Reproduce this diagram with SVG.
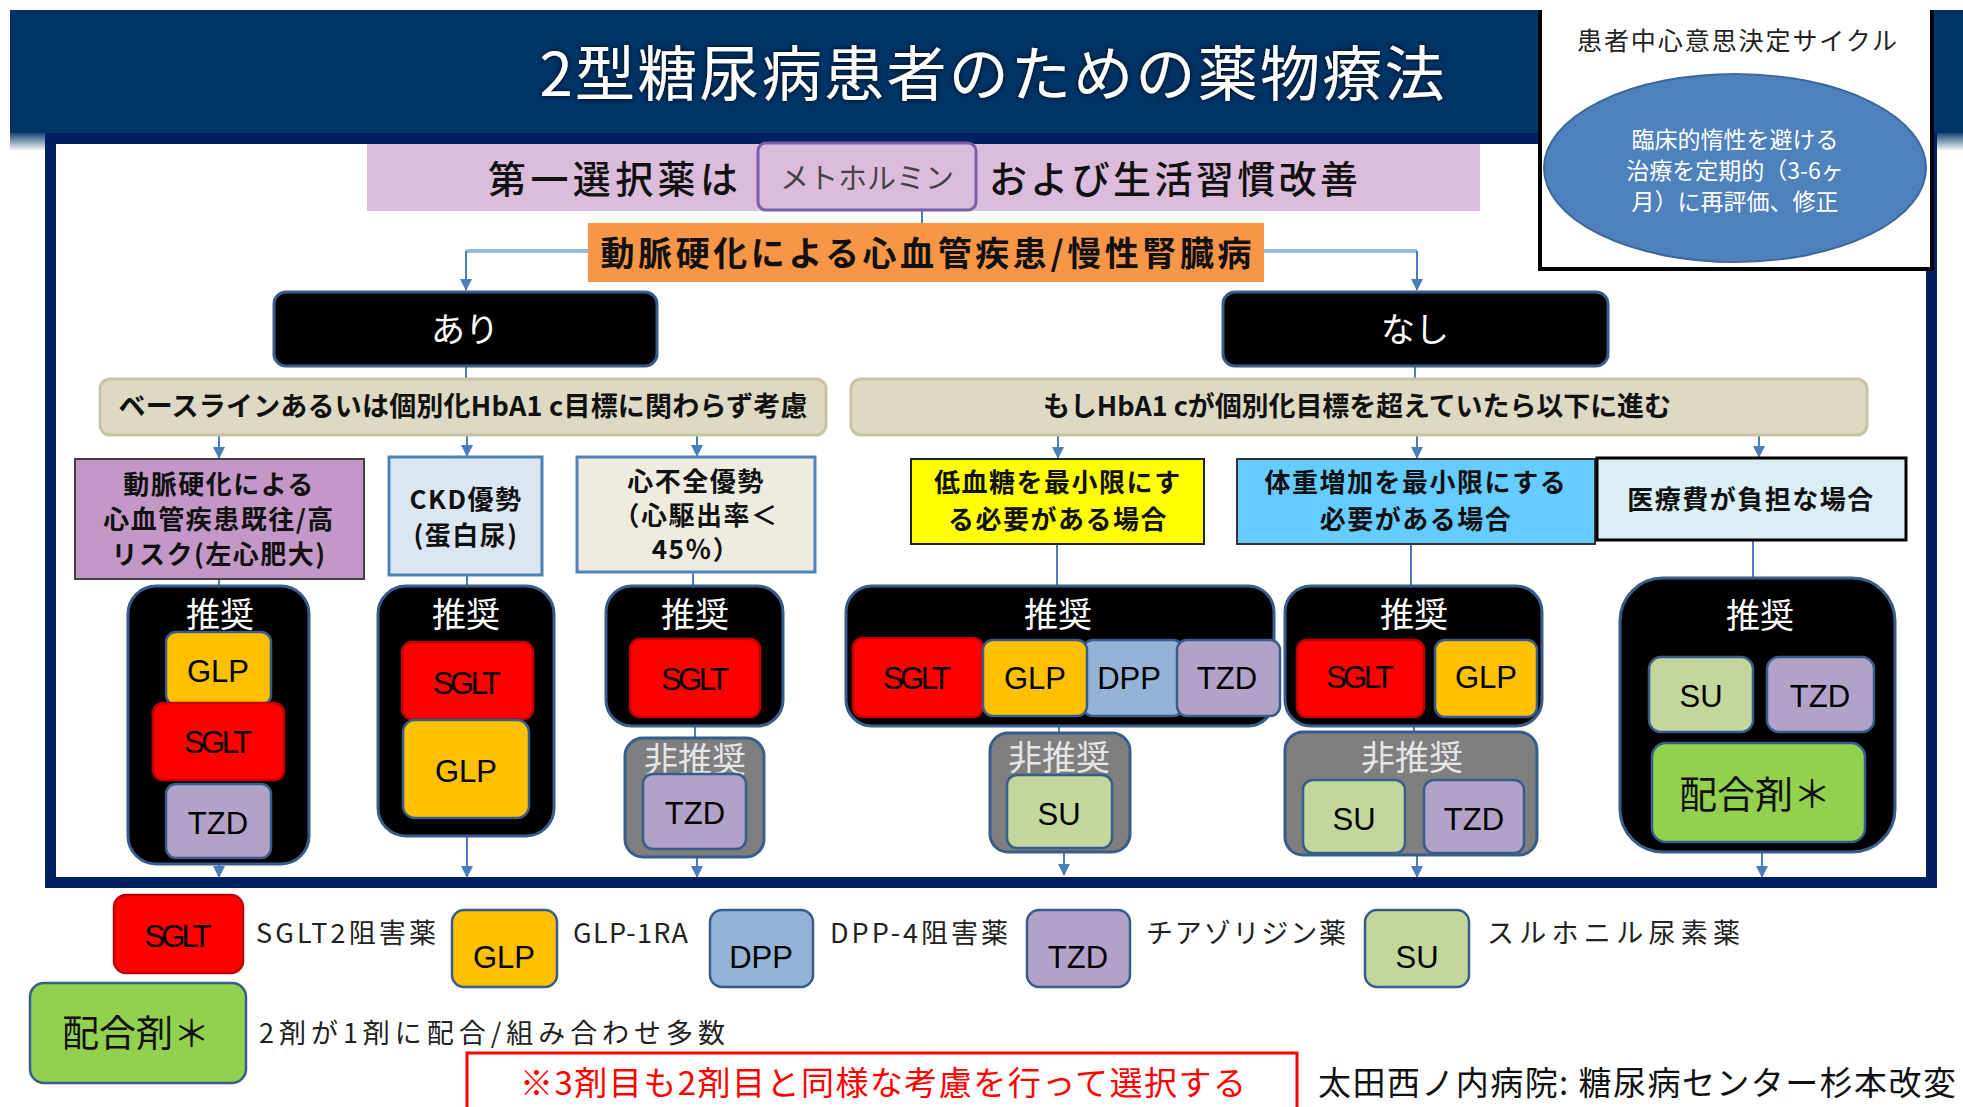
<svg xmlns="http://www.w3.org/2000/svg" width="1963" height="1107" viewBox="0 0 1963 1107">
<defs>
<style>
.cj{font-family:"Noto Sans CJK JP","Noto Sans CJK SC",sans-serif}
.lt{font-family:"Liberation Sans","Noto Sans CJK JP",sans-serif}
.cat{font-family:"Noto Sans CJK JP",sans-serif;font-size:26px;font-weight:bold;text-anchor:middle;fill:#111;letter-spacing:1.5px}
.grp{fill:#000;stroke:#385d8a;stroke-width:3}
.non{fill:#7f7f7f;stroke:#385d8a;stroke-width:3}
.rec{font-family:"Noto Sans CJK JP",sans-serif;font-size:34px;fill:#fff;text-anchor:middle}
.nrec{font-family:"Noto Sans CJK JP",sans-serif;font-size:34px;fill:#e6e6e6;text-anchor:middle}
.drug{font-family:"Liberation Sans","Noto Sans CJK JP",sans-serif;font-size:31px;fill:#000;text-anchor:middle}
.sglt{fill:#ff0000;stroke:#c00000;stroke-width:2.5}
.glp{fill:#ffc000;stroke:#385d8a;stroke-width:2.5}
.dpp{fill:#95b3d7;stroke:#385d8a;stroke-width:2.5}
.tzd{fill:#b3a2c7;stroke:#385d8a;stroke-width:2.5}
.su{fill:#c3d69b;stroke:#385d8a;stroke-width:2.5}
.mix{fill:#92d050;stroke:#385d8a;stroke-width:2.5}
.leg{font-family:"Noto Sans CJK JP",sans-serif;font-size:27px;fill:#222}
.ln{fill:none;stroke:#4a7ebb;stroke-width:2}
.band{fill:#ddd9c3;stroke:#c9c3a3;stroke-width:3}
</style>
<marker id="ah" markerUnits="userSpaceOnUse" markerWidth="12" markerHeight="12" viewBox="0 0 12 12" refX="11" refY="6" orient="auto">
<path d="M0,0 L12,6 L0,12 Z" fill="#4a7ebb"/>
</marker>
<linearGradient id="fade" x1="0" y1="0" x2="0" y2="1">
<stop offset="0" stop-color="#003366" stop-opacity="0.9"/>
<stop offset="1" stop-color="#003366" stop-opacity="0"/>
</linearGradient>
<filter id="sh" x="-5%" y="-20%" width="110%" height="140%">
<feDropShadow dx="0" dy="0" stdDeviation="2.5" flood-color="#000" flood-opacity="0.9"/>
</filter>
</defs>

<rect x="0" y="0" width="1963" height="1107" fill="#fff"/>

<g id="header">
<rect x="10" y="10" width="1953" height="123" fill="#003366"/>
<rect x="10" y="133" width="1953" height="18" fill="url(#fade)"/>
</g>

<g id="frame">
<rect x="50.5" y="138.5" width="1881" height="744" fill="#fff" stroke="#002060" stroke-width="11"/>
</g>

<g id="title">
<text class="cj" x="992" y="96" font-size="60" fill="#fff" text-anchor="middle" textLength="905" filter="url(#sh)">2型糖尿病患者のための薬物療法</text>
</g>

<g id="cycle">
<rect x="1540" y="-10" width="392" height="279" fill="#fff" stroke="#000" stroke-width="4"/>
<text class="cj" x="1737" y="50" font-size="25" fill="#222" text-anchor="middle" textLength="320">患者中心意思決定サイクル</text>
<ellipse cx="1735" cy="168" rx="191" ry="94" fill="#4f81bd" stroke="#3b6799" stroke-width="2"/>
<text class="cj" x="1735" y="148" font-size="23" fill="#fff" text-anchor="middle">臨床的惰性を避ける</text>
<text class="cj" x="1735" y="179" font-size="23" fill="#fff" text-anchor="middle">治療を定期的（3-6ヶ</text>
<text class="cj" x="1735" y="210" font-size="23" fill="#fff" text-anchor="middle">月）に再評価、修正</text>
</g>
<rect x="0" y="0" width="1963" height="10" fill="#fff"/>

<g id="connectors">
<line class="ln" x1="922" y1="210" x2="922" y2="223"/>
<polyline points="588,251 466,251" fill="none" stroke="#9ab8de" stroke-width="4"/>
<polyline points="1264,251 1417,251" fill="none" stroke="#9ab8de" stroke-width="4"/>
<line class="ln" x1="466" y1="251" x2="466" y2="290" marker-end="url(#ah)"/>
<line class="ln" x1="1417" y1="251" x2="1417" y2="290" marker-end="url(#ah)"/>
<line class="ln" x1="466" y1="366" x2="466" y2="379"/>
<line class="ln" x1="1415" y1="366" x2="1415" y2="379"/>
<line class="ln" x1="219" y1="435" x2="219" y2="458" marker-end="url(#ah)"/>
<line class="ln" x1="467" y1="435" x2="467" y2="456" marker-end="url(#ah)"/>
<line class="ln" x1="697" y1="435" x2="697" y2="456" marker-end="url(#ah)"/>
<line class="ln" x1="1058" y1="435" x2="1058" y2="458" marker-end="url(#ah)"/>
<line class="ln" x1="1417" y1="435" x2="1417" y2="458" marker-end="url(#ah)"/>
<line class="ln" x1="1759" y1="435" x2="1759" y2="457" marker-end="url(#ah)"/>
<line class="ln" x1="219" y1="579" x2="219" y2="586"/>
<line class="ln" x1="467" y1="575" x2="467" y2="586"/>
<line class="ln" x1="693" y1="572" x2="693" y2="586"/>
<line class="ln" x1="695" y1="726" x2="695" y2="738"/>
<line class="ln" x1="1057" y1="544" x2="1057" y2="586"/>
<line class="ln" x1="1059" y1="726" x2="1059" y2="733"/>
<line class="ln" x1="1411" y1="544" x2="1411" y2="586"/>
<line class="ln" x1="1414" y1="726" x2="1414" y2="732"/>
<line class="ln" x1="1753" y1="540" x2="1753" y2="578"/>
<line class="ln" x1="219" y1="864" x2="219" y2="877" marker-end="url(#ah)"/>
<line class="ln" x1="467" y1="836" x2="467" y2="877" marker-end="url(#ah)"/>
<line class="ln" x1="697" y1="857" x2="697" y2="877" marker-end="url(#ah)"/>
<line class="ln" x1="1064" y1="852" x2="1064" y2="875" marker-end="url(#ah)"/>
<line class="ln" x1="1417" y1="855" x2="1417" y2="877" marker-end="url(#ah)"/>
<line class="ln" x1="1762" y1="852" x2="1762" y2="877" marker-end="url(#ah)"/>
</g>

<g id="first-line">
<rect x="367" y="144" width="1113" height="67" fill="#dbbddb"/>
<text class="cj" x="488" y="193" font-size="38" font-weight="500" fill="#111" textLength="250">第一選択薬は</text>
<rect x="758" y="143" width="218" height="67" rx="8" fill="#dbbddb" stroke="#7b5ea7" stroke-width="3"/>
<text class="cj" x="867" y="189" font-size="29" fill="#444" text-anchor="middle">メトホルミン</text>
<text class="cj" x="989" y="193" font-size="38" font-weight="500" fill="#111" textLength="369">および生活習慣改善</text>
</g>

<g id="ascvd">
<rect x="588" y="223" width="676" height="59" fill="#f79646"/>
<text class="cj" x="926" y="266" font-size="34" font-weight="bold" fill="#111" text-anchor="middle" textLength="651">動脈硬化による心血管疾患/慢性腎臓病</text>
</g>

<g id="yes">
<rect x="274" y="292" width="383" height="74" rx="12" class="grp"/>
<text class="cj" x="465" y="342" font-size="34" fill="#fff" text-anchor="middle">あり</text>
</g>
<g id="no">
<rect x="1223" y="292" width="385" height="74" rx="12" class="grp"/>
<text class="cj" x="1415" y="342" font-size="34" fill="#fff" text-anchor="middle">なし</text>
</g>

<g id="band-left">
<rect x="100" y="379" width="726" height="56" rx="10" class="band"/>
<text class="cj" x="463" y="416" font-size="27" font-weight="bold" fill="#111" text-anchor="middle" textLength="689">ベースラインあるいは個別化HbA1 c目標に関わらず考慮</text>
</g>
<g id="band-right">
<rect x="851" y="379" width="1016" height="56" rx="10" class="band"/>
<text class="cj" x="1357" y="416" font-size="27" font-weight="bold" fill="#111" text-anchor="middle" textLength="628">もしHbA1 cが個別化目標を超えていたら以下に進む</text>
</g>

<g id="cat-ascvd">
<rect x="75" y="459" width="289" height="120" fill="#c398c6" stroke="#404040" stroke-width="2"/>
<text class="cat" x="219" y="494">動脈硬化による</text>
<text class="cat" x="219" y="529">心血管疾患既往/高</text>
<text class="cat" x="219" y="564">リスク(左心肥大)</text>
</g>
<g id="cat-ckd">
<rect x="389" y="457" width="153" height="118" fill="#dce6f2" stroke="#4f81bd" stroke-width="3"/>
<text class="cat" x="466" y="509">CKD優勢</text>
<text class="cat" x="466" y="545">(蛋白尿)</text>
</g>
<g id="cat-hf">
<rect x="577" y="457" width="238" height="115" fill="#eeece1" stroke="#4f81bd" stroke-width="3"/>
<text class="cat" x="696" y="491">心不全優勢</text>
<text class="cat" x="696" y="525">（心駆出率＜</text>
<text class="cat" x="696" y="559">45％）</text>
</g>
<g id="cat-hypo">
<rect x="911" y="459" width="293" height="85" fill="#ffff00" stroke="#222" stroke-width="2"/>
<text class="cat" x="1058" y="492">低血糖を最小限にす</text>
<text class="cat" x="1058" y="529">る必要がある場合</text>
</g>
<g id="cat-weight">
<rect x="1237" y="459" width="358" height="85" fill="#66ccff" stroke="#333" stroke-width="2"/>
<text class="cat" x="1416" y="492">体重増加を最小限にする</text>
<text class="cat" x="1416" y="529">必要がある場合</text>
</g>
<g id="cat-cost">
<rect x="1597" y="458" width="309" height="82" fill="#dbeef4" stroke="#000" stroke-width="3"/>
<text class="cat" x="1751" y="509">医療費が負担な場合</text>
</g>

<g id="grp-ascvd">
<rect x="128" y="586" width="181" height="278" rx="28" class="grp"/>
<text class="rec" x="220" y="627">推奨</text>
<rect x="166" y="632" width="105" height="73" rx="10" class="glp"/>
<text class="drug" x="218" y="682">GLP</text>
<rect x="153" y="703" width="131" height="77" rx="10" class="sglt"/>
<text class="drug" x="218" y="753" textLength="68">SGLT</text>
<rect x="166" y="784" width="105" height="74" rx="10" class="tzd"/>
<text class="drug" x="218" y="834">TZD</text>
</g>
<g id="grp-ckd">
<rect x="378" y="586" width="176" height="250" rx="28" class="grp"/>
<text class="rec" x="466" y="627">推奨</text>
<rect x="402" y="642" width="131" height="77" rx="10" class="sglt"/>
<text class="drug" x="467" y="694" textLength="68">SGLT</text>
<rect x="403" y="720" width="126" height="98" rx="12" class="glp"/>
<text class="drug" x="466" y="782">GLP</text>
</g>
<g id="grp-hf">
<rect x="606" y="586" width="177" height="140" rx="26" class="grp"/>
<text class="rec" x="695" y="627">推奨</text>
<rect x="630" y="639" width="130" height="78" rx="10" class="sglt"/>
<text class="drug" x="695" y="690" textLength="68">SGLT</text>
</g>
<g id="grp-hf-no">
<rect x="625" y="738" width="139" height="119" rx="18" class="non"/>
<text class="nrec" x="695" y="772">非推奨</text>
<rect x="643" y="774" width="103" height="75" rx="10" class="tzd"/>
<text class="drug" x="695" y="824">TZD</text>
</g>
<g id="grp-hypo">
<rect x="846" y="586" width="428" height="140" rx="26" class="grp"/>
<text class="rec" x="1058" y="627">推奨</text>
<rect x="1083" y="640" width="100" height="76" rx="10" class="dpp"/>
<rect x="853" y="638" width="130" height="79" rx="10" class="sglt"/>
<rect x="983" y="640" width="104" height="76" rx="10" class="glp"/>
<rect x="1177" y="640" width="103" height="76" rx="10" class="tzd"/>
<text class="drug" x="917" y="689" textLength="68">SGLT</text>
<text class="drug" x="1035" y="689">GLP</text>
<text class="drug" x="1129" y="689">DPP</text>
<text class="drug" x="1227" y="689">TZD</text>
</g>
<g id="grp-hypo-no">
<rect x="990" y="733" width="140" height="119" rx="18" class="non"/>
<text class="nrec" x="1059" y="770">非推奨</text>
<rect x="1007" y="775" width="105" height="73" rx="10" class="su"/>
<text class="drug" x="1059" y="825" font-size="35">SU</text>
</g>
<g id="grp-weight">
<rect x="1285" y="586" width="257" height="140" rx="26" class="grp"/>
<text class="rec" x="1414" y="627">推奨</text>
<rect x="1297" y="640" width="127" height="77" rx="10" class="sglt"/>
<text class="drug" x="1360" y="688" textLength="68">SGLT</text>
<rect x="1435" y="640" width="102" height="77" rx="10" class="glp"/>
<text class="drug" x="1486" y="688">GLP</text>
</g>
<g id="grp-weight-no">
<rect x="1285" y="732" width="252" height="123" rx="18" class="non"/>
<text class="nrec" x="1412" y="770">非推奨</text>
<rect x="1303" y="780" width="102" height="73" rx="10" class="su"/>
<text class="drug" x="1354" y="830" font-size="35">SU</text>
<rect x="1424" y="780" width="100" height="73" rx="10" class="tzd"/>
<text class="drug" x="1474" y="830">TZD</text>
</g>
<g id="grp-cost">
<rect x="1620" y="578" width="275" height="274" rx="43" class="grp"/>
<text class="rec" x="1760" y="628">推奨</text>
<rect x="1649" y="657" width="104" height="75" rx="12" class="su"/>
<text class="drug" x="1701" y="707">SU</text>
<rect x="1767" y="657" width="107" height="75" rx="12" class="tzd"/>
<text class="drug" x="1820" y="707">TZD</text>
<rect x="1652" y="743" width="213" height="99" rx="14" class="mix"/>
<text class="cj" x="1755" y="808" font-size="38" fill="#111" text-anchor="middle">配合剤＊</text>
</g>

<g id="legend">
<rect x="114" y="895" width="129" height="78" rx="12" class="sglt"/>
<text class="drug" x="178" y="947" textLength="67">SGLT</text>
<text class="leg" x="256" y="943" textLength="180">SGLT2阻害薬</text>
<rect x="452" y="910" width="105" height="77" rx="12" class="glp"/>
<text class="drug" x="504" y="968">GLP</text>
<text class="leg" x="573" y="943" textLength="115">GLP-1RA</text>
<rect x="710" y="910" width="103" height="77" rx="12" class="dpp"/>
<text class="drug" x="761" y="968">DPP</text>
<text class="leg" x="830" y="943" textLength="178">DPP-4阻害薬</text>
<rect x="1027" y="910" width="103" height="77" rx="12" class="tzd"/>
<text class="drug" x="1078" y="968">TZD</text>
<text class="leg" x="1146" y="943" textLength="200">チアゾリジン薬</text>
<rect x="1365" y="910" width="104" height="77" rx="12" class="su"/>
<text class="drug" x="1417" y="968">SU</text>
<text class="leg" x="1487" y="943" textLength="253">スルホニル尿素薬</text>
<rect x="30" y="983" width="216" height="100" rx="14" class="mix"/>
<text class="cj" x="136" y="1047" font-size="37" fill="#111" text-anchor="middle">配合剤＊</text>
<text class="leg" x="259" y="1043" font-size="29" textLength="466">2剤が1剤に配合/組み合わせ多数</text>
</g>

<g id="note">
<rect x="467" y="1053" width="830" height="80" fill="#fff" stroke="#ff0000" stroke-width="3"/>
<text class="cj" x="520" y="1095" font-size="33" fill="#ff0000" textLength="726">※3剤目も2剤目と同様な考慮を行って選択する</text>
</g>
<g id="credit">
<text class="cj" x="1318" y="1095" font-size="33" fill="#111" textLength="638">太田西ノ内病院: 糖尿病センター杉本改変</text>
</g>
</svg>
